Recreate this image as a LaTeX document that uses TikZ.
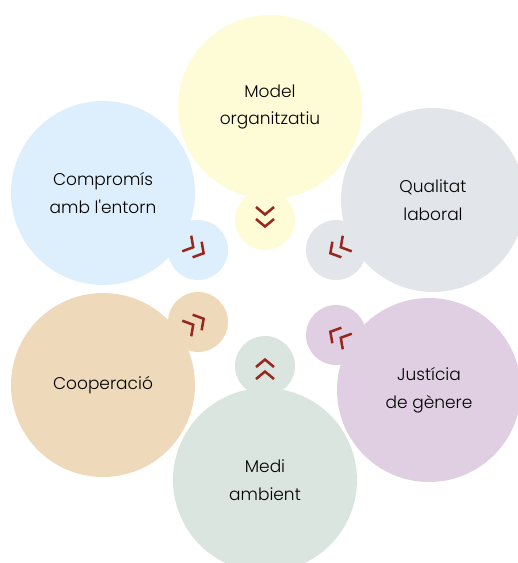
\documentclass[tikz,border=0pt]{standalone}
\usepackage{fontspec}
\setmainfont{Poppins Light}
\usetikzlibrary{positioning}

\definecolor{cyellow}{HTML}{FEFCD6}
\definecolor{cblue}{HTML}{DDEEFC}
\definecolor{cgray}{HTML}{E2E6EB}
\definecolor{cpurple}{HTML}{E0CFE2}
\definecolor{ctan}{HTML}{EED9BA}
\definecolor{cgreen}{HTML}{DBE5DF}
\definecolor{chevred}{HTML}{98261D}

\begin{document}
\begin{tikzpicture}
[x=1pt,y=-1pt,
bigcirc/.style={shape=circle,minimum size=184pt,inner sep=0pt,align=center,
  font=\fontsize{17}{27.5}\selectfont,text=black},
smallcirc/.style={shape=circle,minimum size=60pt,inner sep=0pt},
chevline/.style={draw=chevred,line width=2.5pt},
chev/.pic={
  \draw[chevline] (-1,-9) -- (6.5,0) -- (-1,9);
  \draw[chevline] (-13,-9) -- (-5.5,0) -- (-13,9);}]

\useasboundingbox (0,0) rectangle (518,563);
\clip (0,0) rectangle (518,563);

% small circles
\node (model-s) [smallcirc,fill=cyellow] at (265,220) {};
\node (compromis-s) [smallcirc,fill=cblue] at (198,250) {};
\node (qualitat-s) [smallcirc,fill=cgray] at (336,250) {};
\node (cooperacio-s) [smallcirc,fill=ctan] at (198,322) {};
\node (justicia-s) [smallcirc,fill=cpurple] at (336,335) {};
\node (medi-s) [smallcirc,fill=cgreen] at (265,366) {};

% big circles
\node (model) [bigcirc,fill=cyellow] at (270,107) {Model\\organitzatiu};
\node (compromis) [bigcirc,fill=cblue] at (103,193) {Compromís\\amb l\textquotesingle entorn};
\node (qualitat) [bigcirc,fill=cgray] at (433,200) {Qualitat\\laboral};
\node (cooperacio) [bigcirc,fill=ctan] at (103,385) {Cooperació};
\node (justicia) [bigcirc,fill=cpurple] at (429,390) {Justícia\\de gènere};
\node (medi) [bigcirc,fill=cgreen] at (265,480) {Medi\\ambient};

% chevrons
\pic[rotate=-90] at (model-s) {chev};
\pic[rotate=-30] at (compromis-s) {chev};
\pic[rotate=210] at (qualitat-s) {chev};
\pic[rotate=30] at (cooperacio-s) {chev};
\pic[rotate=150] at (justicia-s) {chev};
\pic[rotate=90] at (medi-s) {chev};

\end{tikzpicture}
\end{document}
